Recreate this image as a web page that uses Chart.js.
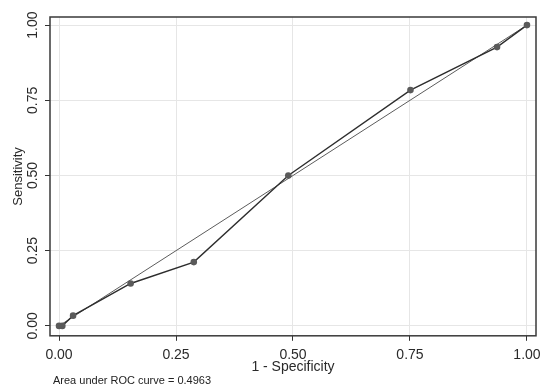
<!DOCTYPE html>
<html>
<head>
<meta charset="utf-8">
<script src="https://cdn.jsdelivr.net/npm/chart.js@4"></script>
<style>
  html, body { margin: 0; padding: 0; background: #fff; }
  #wrap { width: 545px; height: 392px; }
</style>
</head>
<body>
<div id="wrap"><canvas id="roc-chart" width="545" height="392"></canvas></div>
<script>
// ROC curve points (1 - specificity, sensitivity)
const fpr = [0, 0.007, 0.030, 0.153, 0.288, 0.490, 0.751, 0.936, 1];
const tpr = [0, 0, 0.034, 0.141, 0.212, 0.500, 0.784, 0.927, 1];
// reference line
const refX = [0, 1];
const refY = [0, 1];
const tickValues = [0, 0.25, 0.5, 0.75, 1];
const aucText = "Area under ROC curve = 0.4963";

const rocPoints = fpr.map((x, i) => ({ x: x, y: tpr[i] }));
const refPoints = refX.map((x, i) => ({ x: x, y: refY[i] }));

const setTicks = (scale) => {
  scale.ticks = tickValues.map((v) => ({ value: v }));
};

const fontFam = "'Liberation Sans', Arial, sans-serif";

// frame around plot area + footnote
const framePlugin = {
  id: "frame",
  afterDraw(chart) {
    const { ctx, chartArea } = chart;
    ctx.save();
    ctx.strokeStyle = "#3a3a3a";
    ctx.lineWidth = 1.5;
    ctx.strokeRect(chartArea.left, chartArea.top, chartArea.right - chartArea.left, chartArea.bottom - chartArea.top);
    ctx.fillStyle = "#222";
    ctx.font = "11px " + fontFam;
    ctx.textBaseline = "middle";
    ctx.fillText(aucText, chartArea.left + 3, chart.height - 11);
    ctx.restore();
  },
};

new Chart(document.getElementById("roc-chart"), {
  type: "scatter",
  data: {
    datasets: [
      {
        data: rocPoints,
        showLine: true,
        borderColor: "#2e2e2e",
        borderWidth: 1.4,
        pointRadius: 3.3,
        pointBackgroundColor: "#5a5a5a",
        pointBorderColor: "#5a5a5a",
        pointBorderWidth: 0,
      },
      {
        data: refPoints,
        showLine: true,
        borderColor: "#5c5c5c",
        borderWidth: 1,
        pointRadius: 0,
      },
    ],
  },
  options: {
    responsive: false,
    animation: false,
    layout: { padding: { top: 17, right: 9, bottom: 16, left: 4 } },
    plugins: {
      legend: { display: false },
      tooltip: { enabled: false },
    },
    scales: {
      x: {
        type: "linear",
        min: -0.0193,
        max: 1.0193,
        afterBuildTicks: setTicks,
        afterFit: (scale) => {
          scale.paddingLeft = 0;
          scale.paddingRight = 0;
        },
        grid: { color: "#e6e6e6", tickColor: "#333", tickLength: 5, lineWidth: 1 },
        border: { display: false },
        ticks: {
          color: "#2a2a2a",
          padding: 6,
          maxRotation: 0,
          font: { family: fontFam, size: 14 },
          callback: (v) => Number(v).toFixed(2),
        },
        title: {
          display: true,
          text: "1 - Specificity",
          color: "#2a2a2a",
          padding: { top: -10.4, bottom: 0 },
          font: { family: fontFam, size: 14 },
        },
      },
      y: {
        type: "linear",
        min: -0.033,
        max: 1.027,
        afterBuildTicks: setTicks,
        afterFit: (scale) => {
          scale.width = 46;
          scale.paddingTop = 0;
          scale.paddingBottom = 0;
        },
        grid: { color: "#e6e6e6", tickColor: "#333", tickLength: 5, lineWidth: 1 },
        border: { display: false },
        ticks: {
          color: "#2a2a2a",
          padding: -1.5,
          minRotation: 90,
          maxRotation: 90,
          crossAlign: "center",
          font: { family: fontFam, size: 14 },
          callback: (v) => Number(v).toFixed(2),
        },
        title: {
          display: true,
          text: "Sensitivity",
          color: "#2a2a2a",
          padding: { top: 6.5, bottom: 0 },
          font: { family: fontFam, size: 13 },
        },
      },
    },
  },
  plugins: [framePlugin],
});
</script>
</body>
</html>
